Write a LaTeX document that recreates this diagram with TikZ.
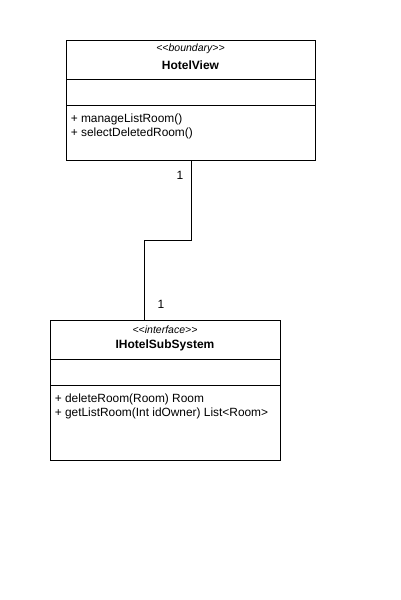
\documentclass[tikz,border=0pt]{standalone}
\usepackage{fontspec}
\setmainfont{Liberation Sans}
\usepackage{xcolor}
\usetikzlibrary{calc,positioning}
\definecolor{ink}{HTML}{000000}
\newcommand{\guil}[1]{{<}{<}#1{>}{>}}
\begin{document}
\begin{tikzpicture}[x=1pt,y=-1pt,line width=1pt,
  classbox/.style={draw=ink,rectangle,inner sep=0pt,anchor=north west},
  stereo/.style={font=\fontsize{10.5}{12}\selectfont\itshape,text=ink},
  cname/.style={font=\fontsize{12}{13}\selectfont\bfseries,text=ink},
  member/.style={font=\fontsize{11.9}{14}\selectfont,text=ink,anchor=west,align=left},
  mult/.style={font=\fontsize{12}{13}\selectfont,text=ink}]
\useasboundingbox (0,0) rectangle (400,600);
% boundary class
\node[classbox,minimum width=249,minimum height=120] (view) at (66,40) {};
\node[stereo] (viewst) at (190.5,49) {\guil{boundary}};
\node[cname] (viewname) at (190.5,65) {HotelView};
\draw[ink] (66,79) -- (315,79); \draw[ink] (66,105) -- (315,105);
\node[member] (viewops) at (67,126.5) {+ manageListRoom()\\+ selectDeletedRoom()};
% interface
\node[classbox,minimum width=230,minimum height=140] (sub) at (50,320) {};
\node[stereo] (subst) at (165,330) {\guil{interface}};
\node[cname] (subname) at (165,345) {IHotelSubSystem};
\draw[ink] (50,359) -- (280,359); \draw[ink] (50,385) -- (280,385);
\node[member] (subops) at (51,406.5) {+ deleteRoom(Room) Room\\+ getListRoom(Int idOwner) List<Room>};
% association
\coordinate (bend) at (144,240);
\draw[ink] (view.south) |- (bend) -- (bend |- sub.north);
\node[mult] (m1) at (180,175) {1};
\node[mult] (m2) at (161,304) {1};
\end{tikzpicture}
\end{document}
